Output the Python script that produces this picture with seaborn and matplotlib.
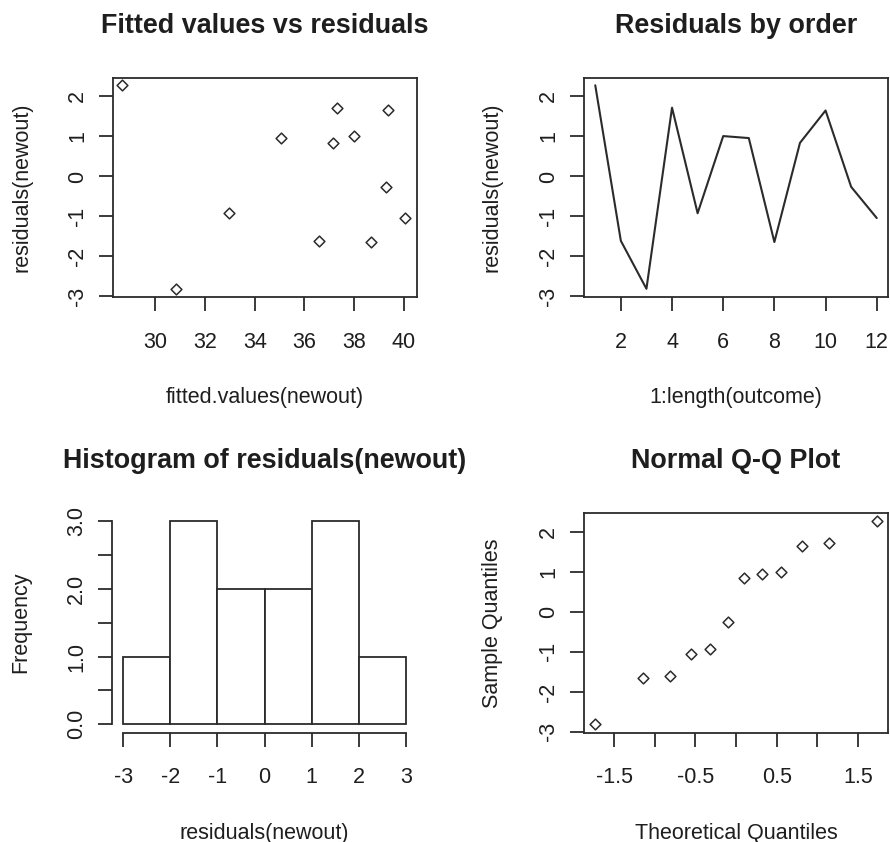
import matplotlib
matplotlib.use("Agg")
import matplotlib.pyplot as plt
import seaborn as sns

# Residual diagnostics for the fitted model "newout"
order_index = list(range(1, 13))
fitted_values = [28.64, 36.59, 30.81, 37.30, 32.95, 38.00, 35.07, 38.69, 37.16, 39.39, 39.30, 40.05]
residual_values = [2.28, -1.61, -2.81, 1.72, -0.92, 1.01, 0.96, -1.64, 0.84, 1.65, -0.26, -1.04]
theoretical_quantiles = [-1.73, -1.15, -0.81, -0.55, -0.32, -0.10, 0.10, 0.32, 0.55, 0.81, 1.15, 1.73]
hist_breaks = [-3, -2, -1, 0, 1, 2, 3]

resid_ticks = [-3, -2, -1, 0, 1, 2]
fitted_ticks = [30, 32, 34, 36, 38, 40]
order_ticks = [2, 4, 6, 8, 10, 12]
freq_ticks = [0.0, 0.5, 1.0, 1.5, 2.0, 2.5, 3.0]
freq_labels = ["0.0", "", "1.0", "", "2.0", "", "3.0"]
qq_ticks = [-1.5, -1.0, -0.5, 0.0, 0.5, 1.0, 1.5]
qq_labels = ["-1.5", "", "-0.5", "", "0.5", "", "1.5"]

sns.set_theme(style="white")
plt.rcParams["font.family"] = ["Liberation Sans", "DejaVu Sans"]
plt.rcParams["axes.unicode_minus"] = False

INK = "#2b2b2b"
TEXT = "#1e1e1e"
LW = 1.3
FS = 15.5
W, H = 890, 842

fig = plt.figure(figsize=(W / 100, H / 100), dpi=100)
fig.patch.set_facecolor("white")


def place(x0, y0, x1, y1):
    return fig.add_axes([x0 / W, 1 - y1 / H, (x1 - x0) / W, (y1 - y0) / H])


def style(ax, title, xlabel, ylabel, box=True):
    ax.set_facecolor("white")
    ax.grid(False)
    for s in ax.spines.values():
        s.set_color(INK)
        s.set_linewidth(LW)
        s.set_visible(box)
    ax.tick_params(axis="both", direction="out", length=10, width=LW, color=INK,
                   labelsize=FS, labelcolor=TEXT, bottom=True, left=True)
    ax.tick_params(axis="x", pad=15)
    ax.tick_params(axis="y", pad=8, labelrotation=90)
    for lab in ax.get_yticklabels():
        lab.set_verticalalignment("center")
    ax.set_title(title, fontsize=19.4, fontweight="bold", color=TEXT, pad=32.5)
    ax.set_xlabel(xlabel, fontsize=FS, color=TEXT)
    ax.set_ylabel(ylabel, fontsize=FS, color=TEXT)
    h = ax.get_position().height * H
    w = ax.get_position().width * W
    ax.xaxis.set_label_coords(0.5, -90 / h)
    ax.yaxis.set_label_coords(-81 / w, 0.5)


# Fitted values vs residuals
ax1 = place(113, 77.7, 417, 297.2)
sns.scatterplot(x=fitted_values, y=residual_values, marker="D", s=30,
                facecolor="white", edgecolor=INK, linewidth=1.1, ax=ax1)
ax1.set_xlim(28.29, 40.54)
ax1.set_ylim(-3.02, 2.47)
ax1.set_xticks(fitted_ticks)
ax1.set_yticks(resid_ticks)
style(ax1, "Fitted values vs residuals", "fitted.values(newout)", "residuals(newout)")

# Residuals by order
ax2 = place(584, 77.7, 888, 297.2)
sns.lineplot(x=order_index, y=residual_values, color=INK, linewidth=1.5,
             estimator=None, sort=False, ax=ax2)
ax2.set_xlim(0.56, 12.44)
ax2.set_ylim(-3.02, 2.47)
ax2.set_xticks(order_ticks)
ax2.set_yticks(resid_ticks)
style(ax2, "Residuals by order", "1:length(outcome)", "residuals(newout)")

# Histogram of residuals
ax3 = place(112, 512.8, 417, 732.5)
sns.histplot(x=residual_values, bins=hist_breaks, stat="count", color="white",
             edgecolor=INK, linewidth=LW, alpha=1.0, ax=ax3)
ax3.set_xlim(-3.24, 3.24)
ax3.set_ylim(-0.12, 3.12)
ax3.set_xticks(hist_breaks)
ax3.set_yticks(freq_ticks)
ax3.set_yticklabels(freq_labels)
style(ax3, "Histogram of residuals(newout)", "residuals(newout)", "Frequency", box=False)
ax3.spines["bottom"].set_visible(True)
ax3.spines["left"].set_visible(True)
ax3.spines["bottom"].set_bounds(-3, 3)
ax3.spines["left"].set_bounds(0, 3)

# Normal Q-Q plot
ax4 = place(584, 512.8, 888, 732.7)
sns.scatterplot(x=theoretical_quantiles, y=sorted(residual_values), marker="D", s=30,
                facecolor="white", edgecolor=INK, linewidth=1.1, ax=ax4)
ax4.set_xlim(-1.87, 1.87)
ax4.set_ylim(-3.02, 2.48)
ax4.set_xticks(qq_ticks)
ax4.set_xticklabels(qq_labels)
ax4.set_yticks(resid_ticks)
style(ax4, "Normal Q-Q Plot", "Theoretical Quantiles", "Sample Quantiles")

fig.savefig("out.png", dpi=100, facecolor="white")
